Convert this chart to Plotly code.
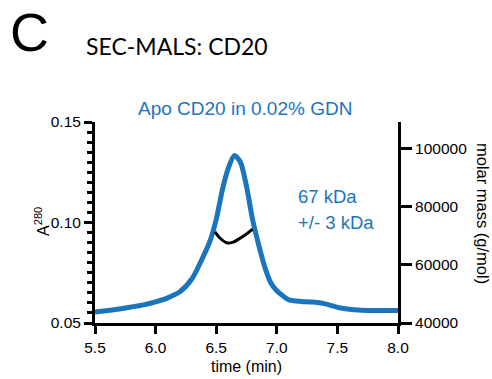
import plotly.graph_objects as go

# ---- data ----
time_a280 = [5.5, 5.7, 5.9, 6.0, 6.1, 6.2, 6.3, 6.4, 6.45, 6.5, 6.55, 6.6, 6.65, 6.7,
             6.75, 6.8, 6.85, 6.9, 6.95, 7.0, 7.05, 7.1, 7.2, 7.3, 7.4, 7.5, 7.6,
             7.7, 7.8, 7.9, 8.0]
a280 = [0.0555, 0.057, 0.059, 0.0605, 0.0625, 0.0655, 0.072, 0.084, 0.091, 0.1015,
        0.116, 0.127, 0.1333, 0.130, 0.118, 0.1015, 0.089, 0.078, 0.070, 0.066,
        0.0635, 0.0615, 0.0607, 0.0604, 0.0595, 0.0578, 0.0568, 0.0564, 0.0562,
        0.0562, 0.0562]

time_mass = [6.49, 6.53, 6.59, 6.64, 6.70, 6.75, 6.80]
molar_mass = [71400, 69300, 67600, 67900, 69300, 70700, 72400]

x_ticks = [5.5, 6.0, 6.5, 7.0, 7.5, 8.0]
y_ticks = [0.05, 0.10, 0.15]
y2_ticks = [40000, 60000, 80000, 100000]

BLUE = "#1b75bc"
FONT = "Liberation Sans"

fig = go.Figure()
fig.add_trace(go.Scatter(x=time_a280, y=a280, mode="lines",
                         line=dict(color=BLUE, width=5, shape="spline", smoothing=0.7),
                         showlegend=False, hoverinfo="skip"))
fig.add_trace(go.Scatter(x=time_mass, y=molar_mass, mode="lines", yaxis="y2",
                         line=dict(color="black", width=3, shape="spline", smoothing=0.8),
                         showlegend=False, hoverinfo="skip"))

W, H = 492, 379
L, R, T, B = 95, 94, 122, 56
pw, ph = W - L - R, H - T - B


def px(x):
    return (x - L) / pw


def py(y):
    return (H - B - y) / ph


axis_common = dict(showgrid=False, zeroline=False, showline=True, linecolor="black",
                   linewidth=3, ticks="outside", tickwidth=3, tickcolor="black",
                   automargin=False,
                   tickfont=dict(family=FONT, size=15.5, color="black"))

fig.update_layout(
    width=W, height=H,
    margin=dict(l=L, r=R, t=T, b=B),
    paper_bgcolor="white", plot_bgcolor="white",
    xaxis=dict(range=[5.5, 8.0], tickvals=x_ticks, tickformat=".1f", ticklen=8,
               title=dict(text="time (min)", font=dict(family=FONT, size=16, color="black"),
                          standoff=7),
               **axis_common),
    yaxis=dict(range=[0.05, 0.15], tickvals=y_ticks, tickformat=".2f", ticklen=8,
               minor=dict(dtick=0.005, ticks="outside", ticklen=5, tickwidth=3,
                          tickcolor="black", showgrid=False),
               **axis_common),
    yaxis2=dict(range=[40000, 109300], tickvals=y2_ticks, tickformat="d",
                overlaying="y", side="right", ticklen=11, **axis_common),
    annotations=[
        dict(text="C", x=px(8), y=py(32), xref="paper", yref="paper", xanchor="left",
             yanchor="middle", showarrow=False,
             font=dict(family=FONT, size=54, color="black")),
        dict(text="SEC-MALS: CD20", x=px(84), y=py(46), xref="paper", yref="paper",
             xanchor="left", yanchor="middle", showarrow=False,
             font=dict(family="Lato", size=23, color="black")),
        dict(text="Apo CD20 in 0.02% GDN", x=px(245), y=py(108), xref="paper", yref="paper",
             xanchor="center", yanchor="middle", showarrow=False,
             font=dict(family=FONT, size=19, color=BLUE)),
        dict(text="67 kDa", x=px(296), y=py(196), xref="paper", yref="paper",
             xanchor="left", yanchor="middle", showarrow=False,
             font=dict(family=FONT, size=18.5, color=BLUE)),
        dict(text="+/- 3 kDa", x=px(296), y=py(222), xref="paper", yref="paper",
             xanchor="left", yanchor="middle", showarrow=False,
             font=dict(family=FONT, size=18.5, color=BLUE)),
        dict(text="A<sup>280</sup>", x=px(42), y=py(222), xref="paper", yref="paper",
             xanchor="center", yanchor="middle", showarrow=False, textangle=-90,
             font=dict(family=FONT, size=16, color="black")),
        dict(text="molar mass (g/mol)", x=px(483), y=py(213), xref="paper", yref="paper",
             xanchor="center", yanchor="middle", showarrow=False, textangle=90,
             font=dict(family=FONT, size=16.5, color="black")),
    ],
)

fig.write_html("out.html", config={"displayModeBar": False},
               post_script="document.body.style.margin='0';")
